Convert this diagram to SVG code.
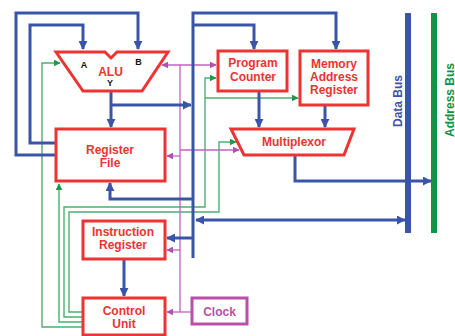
<svg xmlns="http://www.w3.org/2000/svg" width="455" height="336" viewBox="0 0 455 336">
<style>
.box{fill:#fff;stroke:#ee3333;stroke-width:3}
.lbl{font-family:"Liberation Sans",Arial,sans-serif;font-weight:bold;font-size:12px;fill:#ee3333;text-anchor:middle}
.port{font-family:"Liberation Sans",Arial,sans-serif;font-weight:bold;font-size:9px;fill:#111;text-anchor:middle}
.blue{fill:none;stroke:#3a55a8;stroke-width:3}
.green{fill:none;stroke:#4cb070;stroke-width:1.4}
.pink{fill:none;stroke:#c064c0;stroke-width:1.3}
</style>
<defs>
<marker id="ab" viewBox="0 0 10 10" refX="9" refY="5" markerWidth="9" markerHeight="9" markerUnits="userSpaceOnUse" orient="auto-start-reverse"><path d="M0,0 L10,5 L0,10 z" fill="#3a55a8"/></marker>
<marker id="ag" viewBox="0 0 10 10" refX="9" refY="5" markerWidth="7" markerHeight="7" markerUnits="userSpaceOnUse" orient="auto-start-reverse"><path d="M0,0 L10,5 L0,10 z" fill="#1f9a4a"/></marker>
<marker id="ap" viewBox="0 0 10 10" refX="9" refY="5" markerWidth="7" markerHeight="7" markerUnits="userSpaceOnUse" orient="auto-start-reverse"><path d="M0,0 L10,5 L0,10 z" fill="#b050b0"/></marker>
</defs>
<rect width="455" height="336" fill="#fff"/>
<g id="connectors">
<path class="green" d="M83,327 H42 V63 H60" marker-end="url(#ag)"/>
<path class="green" d="M83,322 H59 V184" marker-end="url(#ag)"/>
<path class="green" d="M83,317 H64 V207 H205 V78 H216" marker-end="url(#ag)"/>
<path class="green" d="M205,98 H298" marker-end="url(#ag)"/>
<path class="green" d="M83,312 H69 V212 H219 V142 H236" marker-end="url(#ag)"/>
<path class="pink" d="M180,312 V65"/>
<path class="pink" d="M162,65 H216" marker-start="url(#ap)" marker-end="url(#ap)"/>
<path class="pink" d="M180,150 H239" marker-end="url(#ap)"/>
<path class="pink" d="M180,156 H167" marker-end="url(#ap)"/>
<path class="pink" d="M180,250 H167" marker-end="url(#ap)"/>
<path class="pink" d="M192,312 H167" marker-end="url(#ap)"/>
<path class="blue" d="M56,155 H16 V13 H138 V49" marker-end="url(#ab)"/>
<path class="blue" d="M56,143 H30 V25 H83 V49" marker-end="url(#ab)"/>
<path class="blue" d="M111,91 V127" marker-end="url(#ab)"/>
<path class="blue" d="M111,105 H191" marker-end="url(#ab)"/>
<path class="blue" d="M193,258 V13 H336 V49" marker-end="url(#ab)"/>
<path class="blue" d="M193,25 H254 V49" marker-end="url(#ab)"/>
<path class="blue" d="M259,91 V127" marker-end="url(#ab)"/>
<path class="blue" d="M325,105 V127" marker-end="url(#ab)"/>
<path class="blue" d="M295,155 V181 H431" marker-end="url(#ab)"/>
<path class="blue" d="M196,220 H405" marker-start="url(#ab)" marker-end="url(#ab)"/>
<path class="blue" d="M193,199 H110 V183" marker-end="url(#ab)"/>
<path class="blue" d="M193,238 H167" marker-end="url(#ab)"/>
<path class="blue" d="M124,259 V296" marker-end="url(#ab)"/>
</g>
<g id="data-bus">
<rect x="405" y="13" width="6" height="220" fill="#3a55a8"/>
<text transform="translate(401.5,101) rotate(-90)" class="lbl" style="fill:#3a55a8">Data Bus</text>
</g>
<g id="address-bus">
<rect x="431" y="13" width="6" height="220" fill="#0e9444"/>
<text transform="translate(453.5,100) rotate(-90)" class="lbl" style="fill:#0e9444">Address Bus</text>
</g>
<g id="alu">
<polygon class="box" points="56,52 105,52 111,58 117,52 168,52 142,91 83,91"/>
<text x="110.5" y="75.5" class="lbl">ALU</text>
<text x="84" y="67.5" class="port">A</text>
<text x="138.5" y="65" class="port">B</text>
<text x="110" y="86" class="port">Y</text>
</g>
<g id="register-file">
<rect class="box" x="56" y="129" width="109" height="52"/>
<text x="110" y="153.5" class="lbl">Register</text>
<text x="110" y="167" class="lbl">File</text>
</g>
<g id="program-counter">
<rect class="box" x="218" y="51" width="69" height="40"/>
<text x="253" y="67" class="lbl">Program</text>
<text x="253" y="81" class="lbl">Counter</text>
</g>
<g id="memory-address-register">
<rect class="box" x="300" y="51" width="68" height="54"/>
<text x="334" y="67.5" class="lbl">Memory</text>
<text x="334" y="81" class="lbl">Address</text>
<text x="334" y="94" class="lbl">Register</text>
</g>
<g id="multiplexor">
<polygon class="box" points="231,129 354,129 344,155 244,155"/>
<text x="294" y="146" class="lbl">Multiplexor</text>
</g>
<g id="instruction-register">
<rect class="box" x="83" y="221" width="82" height="38"/>
<text x="123" y="235.5" class="lbl">Instruction</text>
<text x="123" y="249" class="lbl">Register</text>
</g>
<g id="control-unit">
<rect class="box" x="83" y="298" width="82" height="37"/>
<text x="124" y="314.5" class="lbl">Control</text>
<text x="124" y="327.5" class="lbl">Unit</text>
</g>
<g id="clock">
<rect x="192" y="298" width="55" height="26" fill="#fff" stroke="#b84fa8" stroke-width="3"/>
<text x="219.5" y="316" class="lbl" style="fill:#b84fa8">Clock</text>
</g>
</svg>
